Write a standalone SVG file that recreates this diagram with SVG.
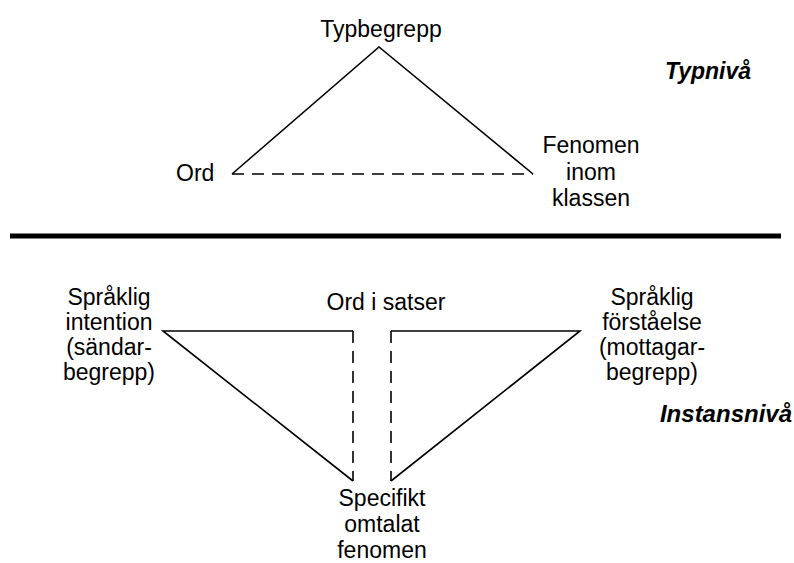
<svg xmlns="http://www.w3.org/2000/svg" width="794" height="563" viewBox="0 0 794 563">
  <style>
    text { font-family: "Liberation Sans", Arial, sans-serif; font-size: 23px; fill: #000; }
    .mid { text-anchor: middle; }
    .lvl { font-weight: bold; font-style: italic; }
    .solid { stroke: #000; stroke-width: 1.6; fill: none; }
    .dash { stroke: #000; stroke-width: 1.6; fill: none; stroke-dasharray: 12 8; }
  </style>
  <rect width="794" height="563" fill="#fff"/>

  <g id="connectors">
    <!-- type level triangle -->
    <polyline class="solid" points="232,174 379,47 533,174"/>
    <line class="dash" x1="232" y1="174" x2="533" y2="174"/>
    <!-- level separator -->
    <line x1="10" y1="236" x2="781" y2="236" stroke="#000" stroke-width="5"/>
    <!-- instance level, sender side -->
    <polyline class="solid" points="353,331 163,331 353,481"/>
    <line class="dash" x1="353" y1="331" x2="353" y2="481"/>
    <!-- instance level, receiver side -->
    <polyline class="solid" points="391,331 580,331 391,481"/>
    <line class="dash" x1="391" y1="331" x2="391" y2="481"/>
  </g>

  <g id="typbegrepp"><text class="mid" x="381" y="37">Typbegrepp</text></g>
  <g id="typniva"><text class="lvl" x="665" y="79">Typnivå</text></g>
  <g id="ord"><text x="176" y="181">Ord</text></g>
  <g id="fenomen-inom-klassen">
    <text class="mid" x="591" y="153">Fenomen</text>
    <text class="mid" x="591" y="180">inom</text>
    <text class="mid" x="591" y="206">klassen</text>
  </g>

  <g id="sprakl-intention">
    <text class="mid" x="109" y="305">Språklig</text>
    <text class="mid" x="109" y="330">intention</text>
    <text class="mid" x="109" y="355">(sändar-</text>
    <text class="mid" x="109" y="380">begrepp)</text>
  </g>
  <g id="ord-i-satser"><text class="mid" x="386" y="310">Ord i satser</text></g>
  <g id="sprakl-forstaelse">
    <text class="mid" x="652" y="305">Språklig</text>
    <text class="mid" x="652" y="330">förståelse</text>
    <text class="mid" x="652" y="355">(mottagar-</text>
    <text class="mid" x="652" y="380">begrepp)</text>
  </g>
  <g id="instansniva"><text class="lvl" x="792" y="422" text-anchor="end" style="font-size:24px">Instansnivå</text></g>
  <g id="specifikt-fenomen">
    <text class="mid" x="382" y="506">Specifikt</text>
    <text class="mid" x="382" y="532">omtalat</text>
    <text class="mid" x="382" y="558">fenomen</text>
  </g>
</svg>
